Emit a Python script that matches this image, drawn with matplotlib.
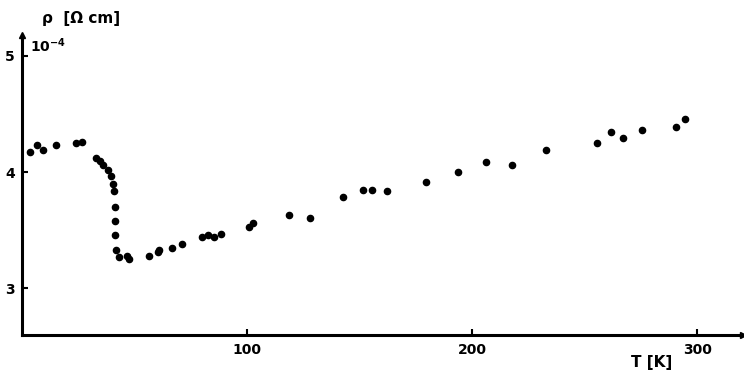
import matplotlib.pyplot as plt

# temperature (K) and resistivity (10^-4 Ohm cm)
temp = [3.6, 6.8, 9.2, 15.0, 24.0, 26.5,
        32.7, 34.7, 36.0, 38.0, 39.6, 40.6, 41.0,
        41.3, 41.3, 41.3, 41.7, 43.1, 46.7, 47.6,
        56.6, 60.6, 61.0, 66.7, 71.0,
        80.0, 82.7, 85.5, 88.5, 100.9, 102.7,
        118.7, 128.0, 142.7, 151.6, 155.6, 162.2, 179.6,
        193.8, 206.0, 217.8, 232.9, 255.6, 261.8, 267.0, 275.6, 290.7, 294.7]
rho = [4.175, 4.23, 4.19, 4.23, 4.25, 4.26,
       4.12, 4.10, 4.06, 4.02, 3.97, 3.90, 3.84,
       3.70, 3.58, 3.46, 3.33, 3.27, 3.28, 3.25,
       3.28, 3.31, 3.33, 3.35, 3.38,
       3.44, 3.46, 3.44, 3.47, 3.53, 3.56,
       3.63, 3.61, 3.79, 3.85, 3.85, 3.84, 3.92,
       4.00, 4.09, 4.06, 4.19, 4.25, 4.35, 4.29, 4.36, 4.39, 4.46]

x_ticks = [100, 200, 300]
y_ticks = [3, 4, 5]

fig = plt.figure(figsize=(7.44, 3.74), dpi=100)
ax = fig.add_axes([22 / 744, 39 / 374, (743 - 22) / 744, (335 - 35) / 374])

ax.scatter(temp, rho, s=20, color='black', zorder=3, clip_on=False)

ax.set_xlim(0, 320.4)
ax.set_ylim(2.60, 5.18)

for side in ['top', 'right']:
    ax.spines[side].set_visible(False)
for side in ['left', 'bottom']:
    ax.spines[side].set_linewidth(2.2)

# arrow heads at the axis ends
ax.plot(0, 1, '^k', ms=5, transform=ax.transAxes, clip_on=False)
ax.plot(1, 0, '>k', ms=5, transform=ax.transAxes, clip_on=False)

ax.set_xticks(x_ticks)
ax.set_xticklabels([str(v) for v in x_ticks], fontweight='bold', fontsize=10)
ax.set_yticks(y_ticks)
ax.set_yticklabels([str(v) for v in y_ticks], fontweight='bold', fontsize=10)
ax.tick_params(axis='both', direction='in', length=4, width=1.5)
ax.tick_params(axis='x', pad=6)
ax.tick_params(axis='y', pad=5)

fig.text(30 / 744, 1 - 46 / 374, r'$\mathbf{10^{-4}}$', fontsize=10,
         ha='left', va='center')
fig.text(42 / 744, 1 - 18 / 374, 'ρ  [Ω cm]', fontsize=11, fontweight='bold',
         ha='left', va='center')
fig.text(652 / 744, 1 - 362 / 374, 'T [K]', fontsize=11, fontweight='bold',
         ha='center', va='center')

fig.savefig('out.png', dpi=100)
